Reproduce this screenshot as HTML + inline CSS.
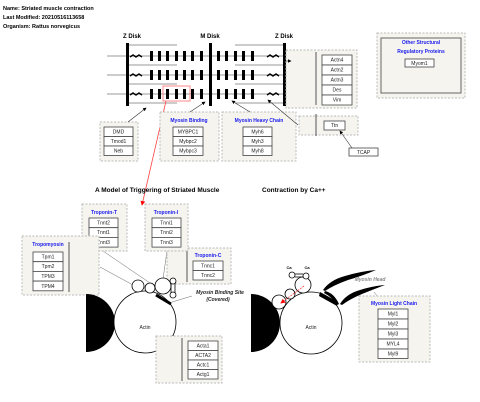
<!DOCTYPE html>
<html><head><style>
body{margin:0;background:#fff}
svg{display:block;font-family:"Liberation Sans",Arial,sans-serif}
.g{fill:#f5f4ee;stroke:#bbb;stroke-dasharray:2,1.5;stroke-width:1}
.b{fill:#fff;stroke:#444;stroke-width:0.8}
.t{font-size:5px;text-anchor:middle;fill:#222}
.h{font-size:5px;font-weight:bold;fill:#1a1aee;text-anchor:middle}
</style></head><body>
<svg width="480" height="402" viewBox="0 0 480 402">
<defs><marker id="a" markerWidth="6" markerHeight="6" refX="5" refY="3" orient="auto"><path d="M0,0L6,3L0,6z" fill="#000"/></marker>
<marker id="r" markerWidth="6" markerHeight="6" refX="5" refY="3" orient="auto"><path d="M0,0L6,3L0,6z" fill="#f00"/></marker></defs>
<g font-size="5.5" font-weight="bold"><text x="3" y="10">Name: Striated muscle contraction</text><text x="3" y="19">Last Modified: 20210516113658</text><text x="3" y="28">Organism: Rattus norvegicus</text></g>
<g font-size="6" font-weight="bold" text-anchor="middle"><text x="132" y="38">Z Disk</text><text x="210" y="38">M Disk</text><text x="284" y="38">Z Disk</text></g>
<g stroke="#999" stroke-width="1"><line x1="107" y1="56" x2="303" y2="56"/><line x1="107" y1="75" x2="303" y2="75"/><line x1="107" y1="94" x2="303" y2="94"/>
<line x1="129" y1="45" x2="177" y2="45"/><line x1="235" y1="45" x2="284" y2="45"/><line x1="129" y1="65" x2="177" y2="65"/><line x1="235" y1="65" x2="284" y2="65"/><line x1="129" y1="84" x2="177" y2="84"/><line x1="235" y1="84" x2="284" y2="84"/><line x1="129" y1="103" x2="177" y2="103"/><line x1="235" y1="103" x2="284" y2="103"/></g>
<g fill="#000"><rect x="126" y="43" width="3" height="63"/><rect x="209" y="43" width="3" height="63"/><rect x="283" y="43" width="3" height="63"/>
<g id="row"><rect x="150" y="51" width="3" height="10"/><rect x="158" y="51" width="3" height="10"/><rect x="166" y="51" width="3" height="10"/><rect x="175" y="51" width="3" height="10"/><rect x="183" y="51" width="3" height="10"/><rect x="191" y="51" width="3" height="10"/><rect x="200" y="51" width="3" height="10"/><rect x="217" y="51" width="3" height="10"/><rect x="225" y="51" width="3" height="10"/><rect x="234" y="51" width="3" height="10"/><rect x="242" y="51" width="3" height="10"/><rect x="251" y="51" width="3" height="10"/></g>
<use href="#row" y="19"/><use href="#row" y="38"/></g>
<g fill="none" stroke="#000" stroke-width="1.5"><path id="zz" d="M130,57l3,-2l3,2l3,-2l3,2"/><use href="#zz" y="19"/><use href="#zz" y="38"/><use href="#zz" x="137"/><use href="#zz" x="137" y="19"/><use href="#zz" x="137" y="38"/></g>
<rect x="163" y="86" width="27" height="15" fill="none" stroke="#f88" stroke-width="1"/>
<line x1="166" y1="101" x2="142" y2="205" stroke="#f44" stroke-width="0.8" marker-end="url(#r)"/>
<rect class="g" x="286" y="50" width="71" height="58"/><line x1="316" y1="52" x2="316" y2="105" stroke="#555"/>
<g><rect class="b" x="322" y="55" width="30" height="10"/><rect class="b" x="322" y="65" width="30" height="10"/><rect class="b" x="322" y="75" width="30" height="10"/><rect class="b" x="322" y="85" width="30" height="10"/><rect class="b" x="322" y="95" width="30" height="10"/>
<text class="t" x="337" y="61.5">Actn4</text><text class="t" x="337" y="71.5">Actn2</text><text class="t" x="337" y="81.5">Actn3</text><text class="t" x="337" y="91.5">Des</text><text class="t" x="337" y="101.5">Vim</text></g>
<rect class="g" x="299" y="116" width="59" height="19"/><line x1="316" y1="114" x2="316" y2="136" stroke="#555"/>
<rect class="b" x="324" y="121" width="21" height="9"/><text class="t" x="334.5" y="127">Ttn</text>
<rect class="b" x="349" y="148" width="29" height="8"/><text class="t" x="363.5" y="154">TCAP</text>
<rect class="g" x="377" y="33" width="88" height="65"/><rect x="381" y="38" width="80" height="55" fill="#f5f4ee" stroke="#666"/>
<text class="h" x="421" y="44">Other Structural</text><text class="h" x="421" y="53">Regulatory Proteins</text>
<rect class="b" x="405" y="59" width="29" height="8"/><text class="t" x="419.5" y="65">Myom1</text>
<rect class="g" x="100" y="122" width="38" height="39"/>
<rect class="b" x="104" y="127" width="29" height="9.5"/><rect class="b" x="104" y="136.5" width="29" height="9.5"/><rect class="b" x="104" y="146" width="29" height="9.5"/>
<text class="t" x="118.5" y="133.5">DMD</text><text class="t" x="118.5" y="143">Tmod1</text><text class="t" x="118.5" y="152.5">Neb</text>
<rect class="g" x="160" y="112" width="59" height="49"/><text class="h" x="189" y="122">Myosin Binding</text>
<rect class="b" x="173" y="127" width="30" height="9.5"/><rect class="b" x="173" y="136.5" width="30" height="9.5"/><rect class="b" x="173" y="146" width="30" height="9.5"/>
<text class="t" x="188" y="133.5">MYBPC1</text><text class="t" x="188" y="143">Mybpc2</text><text class="t" x="188" y="152.5">Mybpc3</text>
<rect class="g" x="222" y="112" width="74" height="49"/><text class="h" x="259" y="122">Myosin Heavy Chain</text>
<rect class="b" x="243" y="127" width="29" height="9.5"/><rect class="b" x="243" y="136.5" width="29" height="9.5"/><rect class="b" x="243" y="146" width="29" height="9.5"/>
<text class="t" x="257.5" y="133.5">Myh6</text><text class="t" x="257.5" y="143">Myh3</text><text class="t" x="257.5" y="152.5">Myh8</text>
<g stroke="#333" stroke-width="0.6" marker-end="url(#a)"><line x1="128" y1="122" x2="146" y2="108"/><line x1="190" y1="112" x2="205" y2="102"/><line x1="250" y1="112" x2="232" y2="101"/><line x1="298" y1="125" x2="268" y2="100"/><line x1="352" y1="148" x2="340" y2="131"/><line x1="286" y1="61" x2="291" y2="61"/></g>
<g font-size="6.5" font-weight="bold"><text x="95" y="192">A Model of Triggering of Striated Muscle</text><text x="262" y="192">Contraction by Ca++</text></g>
<g stroke="#666" stroke-width="0.5" fill="none"><line x1="100" y1="267" x2="133" y2="285"/><line x1="103" y1="251" x2="150" y2="283"/><line x1="167" y1="251" x2="163" y2="279"/><line x1="168" y1="266" x2="172" y2="277"/><line x1="172" y1="302" x2="192" y2="296"/><line x1="156" y1="357" x2="162" y2="349"/></g>
<rect class="g" x="82" y="204" width="45" height="47"/><text class="h" x="104" y="214">Troponin-T</text>
<rect class="b" x="89" y="218" width="29" height="9.7"/><rect class="b" x="89" y="227.7" width="29" height="9.7"/><rect class="b" x="89" y="237.4" width="29" height="9.7"/>
<text class="t" x="103.5" y="224.5">Tnnt2</text><text class="t" x="103.5" y="234">Tnnt1</text><text class="t" x="103.5" y="244">Tnnt3</text>
<rect class="g" x="22" y="236" width="77" height="59"/><text class="h" x="48" y="246">Tropomyosin</text><line x1="69" y1="242" x2="69" y2="292" stroke="#555"/>
<rect class="b" x="33" y="252" width="30" height="9.7"/><rect class="b" x="33" y="261.7" width="30" height="9.7"/><rect class="b" x="33" y="271.4" width="30" height="9.7"/><rect class="b" x="33" y="281.1" width="30" height="9.7"/>
<text class="t" x="48" y="258.5">Tpm1</text><text class="t" x="48" y="268">Tpm2</text><text class="t" x="48" y="278">TPM3</text><text class="t" x="48" y="288">TPM4</text>
<rect class="g" x="167" y="248" width="64" height="36"/><line x1="187" y1="250" x2="187" y2="282" stroke="#555"/><text class="h" x="208" y="257">Troponin-C</text>
<rect class="b" x="193" y="261" width="30" height="9.5"/><rect class="b" x="193" y="270.5" width="30" height="9.5"/>
<text class="t" x="208" y="267.5">Tnnc1</text><text class="t" x="208" y="277">Tnnc2</text>
<rect class="g" x="145" y="204" width="43" height="47"/><text class="h" x="166" y="214">Troponin-I</text>
<rect class="b" x="152" y="218" width="29" height="9.7"/><rect class="b" x="152" y="227.7" width="29" height="9.7"/><rect class="b" x="152" y="237.4" width="29" height="9.7"/>
<text class="t" x="166.5" y="224.5">Tnni1</text><text class="t" x="166.5" y="234">Tnni2</text><text class="t" x="166.5" y="244">Tnni3</text>
<path d="M86,294A29,29 0 0 1 86,352z" fill="#000"/>
<circle cx="145" cy="322" r="31" fill="#fff" stroke="#000" stroke-width="0.8"/><text class="t" x="145" y="329" fill="#444">Actin</text>
<g fill="#fff" stroke="#000" stroke-width="0.8"><circle cx="138" cy="286" r="6"/><circle cx="150" cy="288" r="5"/><circle cx="163" cy="286" r="8"/><circle cx="173" cy="281" r="3"/><circle cx="173" cy="295" r="3"/><line x1="171" y1="283" x2="171" y2="293"/><line x1="175" y1="283" x2="175" y2="293"/></g>
<line x1="156" y1="295" x2="171" y2="304" stroke="#000" stroke-width="3"/>
<g font-size="5" font-weight="bold" font-style="italic" text-anchor="middle" fill="#222"><text x="220" y="294">Myosin Binding Site</text><text x="218" y="301">(Covered)</text></g>
<rect class="g" x="156" y="336" width="66" height="47"/><line x1="182" y1="338" x2="182" y2="381" stroke="#555"/>
<rect class="b" x="188" y="341" width="30" height="9.5"/><rect class="b" x="188" y="350.5" width="30" height="9.5"/><rect class="b" x="188" y="360" width="30" height="9.5"/><rect class="b" x="188" y="369.5" width="30" height="9.5"/>
<text class="t" x="203" y="347.5">Acta1</text><text class="t" x="203" y="357">ACTA2</text><text class="t" x="203" y="366.5">Actc1</text><text class="t" x="203" y="376">Actg1</text>
<path d="M251,294A29,29 0 0 1 251,352z" fill="#000"/>
<circle cx="311" cy="323" r="31" fill="#fff" stroke="#000" stroke-width="0.8"/><text class="t" x="311" y="329" fill="#444">Actin</text>
<g fill="#fff" stroke="#000" stroke-width="0.8"><circle cx="279" cy="302" r="7"/><circle cx="290" cy="294" r="5"/><circle cx="303" cy="285" r="8"/><circle cx="292" cy="275" r="3"/><circle cx="306" cy="276" r="3"/><line x1="295" y1="274" x2="303" y2="274"/><line x1="295" y1="277" x2="303" y2="277"/></g>
<g font-size="4" font-weight="bold" text-anchor="middle"><text x="289" y="269">Ca</text><text x="307" y="269">Ca</text></g>
<line x1="304" y1="286" x2="281" y2="303" stroke="#f44" stroke-width="0.8" stroke-dasharray="2,1" marker-end="url(#r)"/>
<g fill="#000"><path d="M323,290Q330,280 345,276Q362,271 376,270Q362,276 348,280Q334,285 325,291Z"/>
<path d="M325,291Q334,293 339,304L337,305Q332,297 324,293Z"/>
<path d="M340,304Q346,294 360,290Q373,286 385,285Q372,290 362,294Q350,299 342,305Z"/>
<path d="M320,292L338,302L337,306L319,296Z"/></g>
<text x="370" y="281" font-size="5" font-weight="bold" font-style="italic" fill="#888" text-anchor="middle">Myosin Head</text>
<line x1="374" y1="292" x2="378" y2="297" stroke="#666" stroke-width="0.5"/>
<rect class="g" x="359" y="296" width="71" height="66"/><text class="h" x="394" y="305">Myosin Light Chain</text>
<rect class="b" x="378" y="309" width="30" height="10"/><rect class="b" x="378" y="319" width="30" height="10"/><rect class="b" x="378" y="329" width="30" height="10"/><rect class="b" x="378" y="339" width="30" height="10"/><rect class="b" x="378" y="349" width="30" height="9.5"/>
<text class="t" x="393" y="315.5">Myl1</text><text class="t" x="393" y="325.5">Myl2</text><text class="t" x="393" y="335.5">Myl3</text><text class="t" x="393" y="345.5">MYL4</text><text class="t" x="393" y="355.5">Myl9</text>
</svg>
</body></html>
